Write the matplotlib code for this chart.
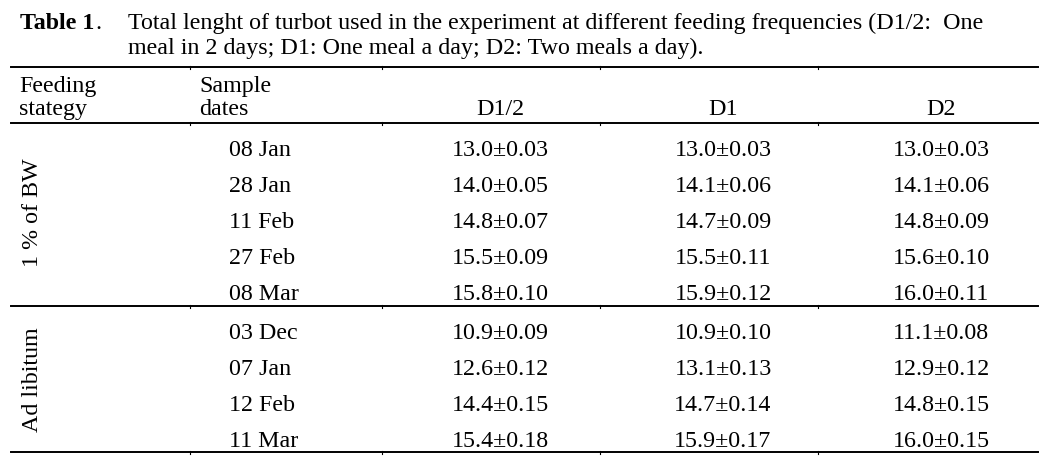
import matplotlib
matplotlib.use("Agg")
import matplotlib.pyplot as plt
from matplotlib.lines import Line2D

# ---- data ----
caption_label = "Table 1"
caption_line1 = "Total lenght of turbot used in the experiment at different feeding frequencies (D1/2:  One"
caption_line2 = "meal in 2 days; D1: One meal a day; D2: Two meals a day)."
header_col1 = ["Feeding", "stategy"]
header_col2 = ["Sample", "dates"]
columns = ["D1/2", "D1", "D2"]

group1 = "1 % of BW"
dates1 = ["08 Jan", "28 Jan", "11 Feb", "27 Feb", "08 Mar"]
d12_1 = ["13.0±0.03", "14.0±0.05", "14.8±0.07", "15.5±0.09", "15.8±0.10"]
d1_1 = ["13.0±0.03", "14.1±0.06", "14.7±0.09", "15.5±0.11", "15.9±0.12"]
d2_1 = ["13.0±0.03", "14.1±0.06", "14.8±0.09", "15.6±0.10", "16.0±0.11"]

group2 = "Ad libitum"
dates2 = ["03 Dec", "07 Jan", "12 Feb", "11 Mar"]
d12_2 = ["10.9±0.09", "12.6±0.12", "14.4±0.15", "15.4±0.18"]
d1_2 = ["10.9±0.10", "13.1±0.13", "14.7±0.14", "15.9±0.17"]
d2_2 = ["11.1±0.08", "12.9±0.12", "14.8±0.15", "16.0±0.15"]

# ---- figure ----
W, H = 1040, 463
fig = plt.figure(figsize=(W / 100, H / 100), dpi=100)
fig.patch.set_facecolor("white")
ax = fig.add_axes([0, 0, 1, 1])
ax.set_xlim(0, W)
ax.set_ylim(H, 0)
ax.axis("off")

FONT = "Liberation Serif"
FS = 17.3

def txt(x, y, s, ha="left", va="baseline", **kw):
    return ax.text(x, y, s, ha=ha, va=va, fontsize=FS, family=FONT, color="black", **kw)

# caption
lbl = txt(20, 29, caption_label, fontweight="bold")
ax.annotate(".", xy=(1, 0), xycoords=lbl, xytext=(0.5, 0), textcoords="offset points",
            ha="left", va="bottom", fontsize=FS, family=FONT, color="black")
txt(128, 29, caption_line1)
txt(128, 54, caption_line2)

# rules
rule_y = [67, 123, 306, 452]
for y in rule_y:
    ax.add_line(Line2D([11, 1038], [y, y], color="black", lw=1.4))
    for tx in [190, 382, 600, 818]:
        ax.add_line(Line2D([tx, tx], [y - 1.5, y + 1.5], color="black", lw=0.8))

# header
txt(19, 92, header_col1[0])
txt(19, 115, header_col1[1])
txt(199, 92, header_col2[0])
txt(199, 115, header_col2[1])
col_x = [500, 723, 941]
for cx, c in zip(col_x, columns):
    txt(cx, 115, c, ha="center")

# body
def block(dates, vals, y0, step):
    for i, d in enumerate(dates):
        y = y0 + i * step
        txt(229, y, d, va="center_baseline")
        for cx, col in zip(col_x, vals):
            txt(cx, y, col[i], ha="center", va="center_baseline")

block(dates1, [d12_1, d1_1, d2_1], 148, 36)
block(dates2, [d12_2, d1_2, d2_2], 331, 36)

ax.text(33, 213, group1, rotation=90, ha="center", va="center", fontsize=FS, family=FONT)
ax.text(33, 380, group2, rotation=90, ha="center", va="center", fontsize=FS, family=FONT)

fig.savefig("out.png", dpi=100, facecolor="white")
